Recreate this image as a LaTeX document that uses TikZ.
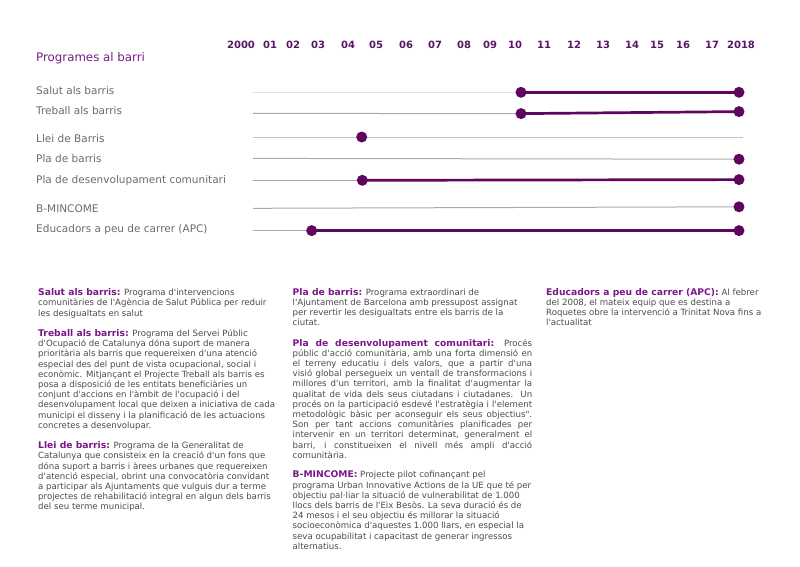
\documentclass[tikz,border=0pt]{standalone}
\usepackage{fontspec}
\usetikzlibrary{backgrounds}
\newfontfamily\dv{DejaVu Sans}
\definecolor{dotc}{RGB}{94,6,94}
\definecolor{yearc}{RGB}{88,24,100}
\definecolor{titlec}{RGB}{120,30,135}
\definecolor{headc}{RGB}{122,24,136}
\definecolor{rowc}{RGB}{108,108,108}
\definecolor{bodyc}{RGB}{75,75,75}
\definecolor{linec}{RGB}{170,170,170}
\definecolor{lightlinec}{RGB}{226,226,226}
\definecolor{midlinec}{RGB}{195,195,195}
\newcommand\phead[1]{{\fontsize{9.2}{10.2}\selectfont\bfseries\color{headc}#1}}
\newcommand\jline[1]{\makebox[239.5pt][s]{#1}}
\begin{document}
\begin{tikzpicture}[x=1pt,y=-1pt,
  year/.style={font=\dv\fontsize{10}{12}\selectfont\bfseries, text=yearc, anchor=base, inner sep=0},
  rowlabel/.style={font=\dv\fontsize{10.5}{12}\selectfont, text=rowc, anchor=base west, inner sep=0},
  dot/.style={circle, fill=dotc, minimum size=11pt, inner sep=0},
  track/.style={draw=linec, line width=1pt},
  span/.style={draw=dotc, line width=2.7pt},
  para/.style={font=\dv\fontsize{8.6}{10.2}\selectfont, text=bodyc, align=left, anchor=north west, inner sep=0},
]
\useasboundingbox (0,0) rectangle (800,566);

% title and years
\node[font=\dv\fontsize{11.8}{14}\selectfont, text=titlec, anchor=base west, inner sep=0] (title) at (36,61.2) {Programes al barri};
\foreach \px/\t/\n in {241/2000/a,270/01/b,293/02/c,318/03/d,348/04/e,376/05/f,406/06/g,435/07/h,464/08/i,490/09/j,515/10/k,544/11/l,574/12/m,603/13/n,632/14/o,657/15/p,683/16/q,712/17/r,741/2018/s}
  \node[year] (yr\n) at (\px,48.6) {\t};

% row labels
\node[rowlabel] (l1) at (36,94.5) {Salut als barris};
\node[rowlabel] (l2) at (36,114.5) {Treball als barris};
\node[rowlabel] (l3) at (36,142.8) {Llei de Barris};
\node[rowlabel] (l4) at (36,162.8) {Pla de barris};
\node[rowlabel] (l5) at (36,183.1) {Pla de desenvolupament comunitari};
\node[rowlabel] (l6) at (36,212.1) {B-MINCOME};
\node[rowlabel] (l7) at (36,232.8) {Educadors a peu de carrer (APC)};

% track start / end coordinates
\coordinate (t1) at (253,92.3);
\coordinate (t2) at (253,113.4);
\coordinate (t3) at (253,137);
\coordinate (t3e) at (743,137);
\coordinate (t4) at (253,158.4);
\coordinate (t5) at (253,180.3);
\coordinate (t6) at (253,208.3);
\coordinate (t7) at (253,230.6);

% dots
\node[dot] (d1a) at (521,92.3) {};
\node[dot] (d1b) at (739,92.3) {};
\node[dot] (d2a) at (521,113.6) {};
\node[dot] (d2b) at (739,111.6) {};
\node[dot] (d3a) at (361.7,137) {};
\node[dot] (d4b) at (739,159.2) {};
\node[dot] (d5a) at (362.3,180.3) {};
\node[dot] (d5b) at (739,179.6) {};
\node[dot] (d6b) at (739,206.8) {};
\node[dot] (d7a) at (311.7,230.6) {};
\node[dot] (d7b) at (739,230.6) {};

\begin{scope}[on background layer]
  \fill[white] (0,0) rectangle (800,566);
  \draw[track, draw=lightlinec] (t1) -- (d1a.center);
  \draw[track] (t2) -- (d2a.center);
  \draw[track, draw=midlinec] (t3) -- (t3e);
  \draw[track] (t4) -- (d4b.center);
  \draw[track] (t5) -- (d5a.center);
  \draw[track] (t6) -- (d6b.center);
  \draw[track] (t7) -- (d7a.center);
  \draw[span] (d1a.center) -- (d1b.center);
  \draw[span] (d2a.center) -- (d2b.center);
  \draw[span] (d5a.center) -- (d5b.center);
  \draw[span] (d7a.center) -- (d7b.center);
\end{scope}

% column 1
\node[para] (p1) at (38,288.5) {\phead{Salut als barris:} Programa d'intervencions\\
comunitàries de l'Agència de Salut Pública per reduir\\
les desigualtats en salut};
\node[para] (p2) at (38,329.3) {\phead{Treball als barris:} Programa del Servei Públic\\
d'Ocupació de Catalunya dóna suport de manera\\
prioritària als barris que requereixen d'una atenció\\
especial des del punt de vista ocupacional, social i\\
econòmic. Mitjançant el Projecte Treball als barris es\\
posa a disposició de les entitats beneficiàries un\\
conjunt d'accions en l'àmbit de l'ocupació i del\\
desenvolupament local que deixen a iniciativa de cada\\
municipi el disseny i la planificació de les actuacions\\
concretes a desenvolupar.};
\node[para] (p3) at (38,441.4) {\phead{Llei de barris:} Programa de la Generalitat de\\
Catalunya que consisteix en la creació d'un fons que\\
dóna suport a barris i àrees urbanes que requereixen\\
d'atenció especial, obrint una convocatòria convidant\\
a participar als Ajuntaments que vulguis dur a terme\\
projectes de rehabilitació integral en algun dels barris\\
del seu terme municipal.};

% column 2
\node[para] (p4) at (292.5,288) {\phead{Pla de barris:} Programa extraordinari de\\
l'Ajuntament de Barcelona amb pressupost assignat\\
per revertir les desigualtats entre els barris de la\\
ciutat.};
\node[para] (p5) at (292.5,338.8) {\jline{\phead{Pla de desenvolupament comunitari:} Procés}\\
\jline{públic d'acció comunitària, amb una forta dimensió en}\\
\jline{el terreny educatiu i dels valors, que a partir d'una}\\
\jline{visió global persegueix un ventall de transformacions i}\\
\jline{millores d'un territori, amb la finalitat d'augmentar la}\\
\jline{qualitat de vida dels seus ciutadans i ciutadanes. Un}\\
\jline{procés on la participació esdevé l'estratègia i l'element}\\
\jline{metodològic bàsic per aconseguir els seus objectius".}\\
\jline{Son per tant accions comunitàries planificades per}\\
\jline{intervenir en un territori determinat, generalment el}\\
\jline{barri, i constitueixen el nivell més ampli d'acció}\\
comunitària.};
\node[para] (p6) at (292.5,470.9) {\phead{B-MINCOME:} Projecte pilot cofinançant pel\\
programa Urban Innovative Actions de la UE que té per\\
objectiu pal·liar la situació de vulnerabilitat de 1.000\\
llocs dels barris de l'Eix Besòs. La seva duració és de\\
24 mesos i el seu objectiu és millorar la situació\\
socioeconòmica d'aquestes 1.000 llars, en especial la\\
seva ocupabilitat i capacitast de generar ingressos\\
alternatius.};

% column 3
\node[para] (p7) at (546,288) {\phead{Educadors a peu de carrer (APC):} Al febrer\\
del 2008, el mateix equip que es destina a\\
Roquetes obre la intervenció a Trinitat Nova fins a\\
l'actualitat};
\end{tikzpicture}
\end{document}
